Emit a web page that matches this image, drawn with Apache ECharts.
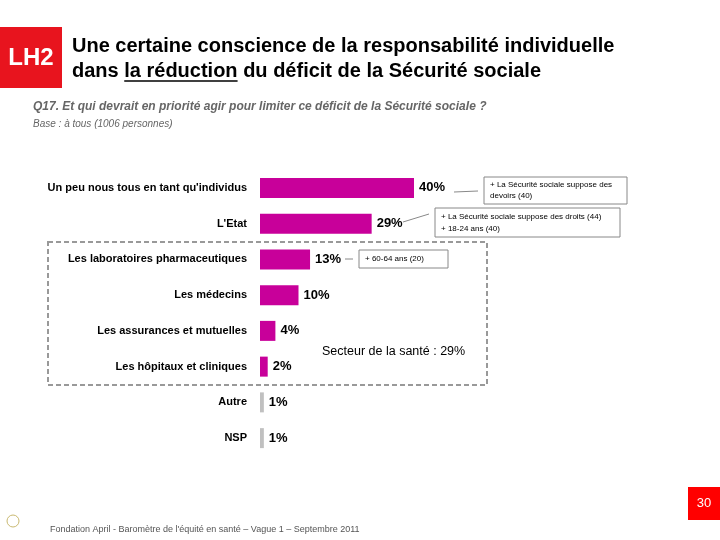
<!DOCTYPE html>
<html><head><meta charset="utf-8">
<script src="https://cdn.jsdelivr.net/npm/echarts@6/dist/echarts.min.js"></script>
<style>html,body{margin:0;padding:0;background:#fff}#c{width:720px;height:540px}</style>
</head><body><div id="c"></div>
<script>
const categories = ["Un peu nous tous en tant qu'individus","L'Etat","Les laboratoires pharmaceutiques","Les médecins","Les assurances et mutuelles","Les hôpitaux et cliniques","Autre","NSP"];
const values = [40,29,13,10,4,2,1,1];
const barColors = ["#C8009A","#C8009A","#C8009A","#C8009A","#C8009A","#C8009A","#C0C0C0","#C0C0C0"];
const notes = [["+ La Sécurité sociale suppose des","devoirs (40)"],["+ La Sécurité sociale suppose des droits (44)","+ 18-24 ans (40)"],["+ 60-64 ans (20)"]];
const sectorLabel = "Secteur de la santé : 29%";
const titleLine1 = "Une certaine conscience de la responsabilité individuelle";
const titlePre = "dans ", titleUnder = "la réduction", titlePost = " du déficit de la Sécurité sociale";

const F = 'Liberation Sans, Arial, sans-serif';
const titleFont = 'bold 20px ' + F;
const mctx = document.createElement('canvas').getContext('2d');
mctx.font = titleFont;
const preW = mctx.measureText(titlePre).width;
const underW = mctx.measureText(titleUnder).width;

const chart = echarts.init(document.getElementById('c'));
const noteStyle = {fontFamily:F,fontSize:8,fill:'#000',lineHeight:11};
chart.setOption({
  animation:false,
  grid:{left:260,top:170,width:385,height:286},
  xAxis:{type:'value',min:0,max:100,show:false},
  yAxis:{type:'category',inverse:true,data:categories,axisLine:{show:false},axisTick:{show:false},
    axisLabel:{margin:13,color:'#000',fontFamily:F,fontSize:11,fontWeight:'bold'}},
  series:[{type:'bar',barWidth:20,
    data:values.map((v,i)=>({value:v,itemStyle:{color:barColors[i]}})),
    label:{show:true,position:'right',distance:5,formatter:'{c}%',fontFamily:F,fontWeight:'bold',fontSize:13,color:'#000'}}],
  graphic:[
    {type:'rect',shape:{x:0,y:27,width:62,height:61},style:{fill:'#E8141E'}},
    {type:'text',x:31,y:58,style:{text:'LH2',fontFamily:F,fontWeight:'bold',fontSize:24,fill:'#fff',align:'center',verticalAlign:'middle'}},
    {type:'text',x:72,y:46,style:{text:titleLine1,font:titleFont,fill:'#000',verticalAlign:'middle'}},
    {type:'text',x:72,y:71,style:{text:titlePre+titleUnder+titlePost,font:titleFont,fill:'#000',verticalAlign:'middle'}},
    {type:'line',shape:{x1:72+preW,y1:81,x2:72+preW+underW,y2:81},style:{stroke:'#000',lineWidth:1.5}},
    {type:'text',x:33,y:107,style:{text:'Q17. Et qui devrait en priorité agir pour limiter ce déficit de la Sécurité sociale ?',fontFamily:F,fontStyle:'italic',fontWeight:'bold',fontSize:12,fill:'#666',verticalAlign:'middle'}},
    {type:'text',x:33,y:124,style:{text:'Base : à tous (1006 personnes)',fontFamily:F,fontStyle:'italic',fontSize:10,fill:'#666',verticalAlign:'middle'}},
    {type:'rect',shape:{x:48,y:242,width:439,height:143},style:{fill:'none',stroke:'#999',lineWidth:2,lineDash:[5,3]}},
    {type:'text',x:322,y:352,style:{text:sectorLabel,fontFamily:F,fontSize:12.5,fill:'#000',verticalAlign:'middle'}},
    {type:'line',shape:{x1:454,y1:192,x2:478,y2:191},style:{stroke:'#888',lineWidth:1}},
    {type:'rect',shape:{x:484,y:177,width:143,height:27},style:{fill:'#fff',stroke:'#888',lineWidth:1}},
    {type:'text',x:490,y:185,style:Object.assign({text:notes[0][0],verticalAlign:'middle'},noteStyle)},
    {type:'text',x:490,y:196,style:Object.assign({text:notes[0][1],verticalAlign:'middle'},noteStyle)},
    {type:'line',shape:{x1:403,y1:222,x2:429,y2:214},style:{stroke:'#888',lineWidth:1}},
    {type:'rect',shape:{x:435,y:208,width:185,height:29},style:{fill:'#fff',stroke:'#888',lineWidth:1}},
    {type:'text',x:441,y:217,style:Object.assign({text:notes[1][0],verticalAlign:'middle'},noteStyle)},
    {type:'text',x:441,y:229,style:Object.assign({text:notes[1][1],verticalAlign:'middle'},noteStyle)},
    {type:'line',shape:{x1:345,y1:259,x2:353,y2:259},style:{stroke:'#888',lineWidth:1}},
    {type:'rect',shape:{x:359,y:250,width:89,height:18},style:{fill:'#fff',stroke:'#888',lineWidth:1}},
    {type:'text',x:365,y:259,style:Object.assign({text:notes[2][0],verticalAlign:'middle'},noteStyle)},
    {type:'rect',shape:{x:688,y:487,width:32,height:33},style:{fill:'#FF0000'}},
    {type:'text',x:704,y:503,style:{text:'30',fontFamily:F,fontSize:13,fill:'#fff',align:'center',verticalAlign:'middle'}},
    {type:'circle',shape:{cx:13,cy:521,r:6},style:{fill:'none',stroke:'#C8B870',lineWidth:1}},
    {type:'text',x:50,y:530,style:{text:'Fondation April - Baromètre de l\'équité en santé – Vague 1 – Septembre 2011',fontFamily:F,fontSize:9,fill:'#555',verticalAlign:'middle'}}
  ]
});
</script></body></html>
